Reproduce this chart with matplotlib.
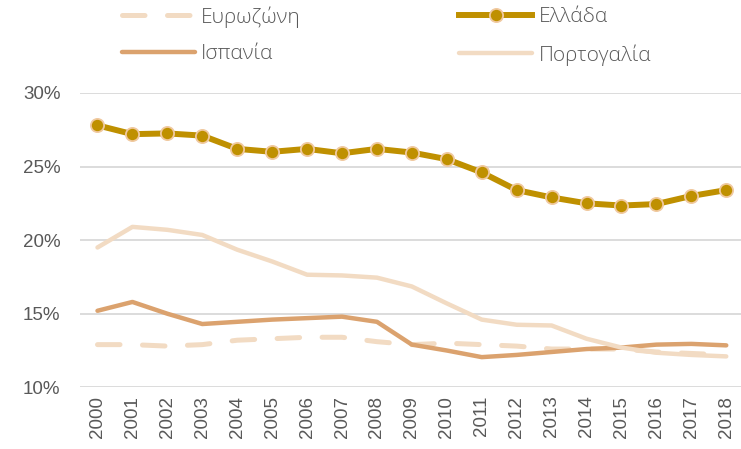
import matplotlib
matplotlib.use("Agg")
import matplotlib.pyplot as plt
from matplotlib.ticker import FuncFormatter

years = [str(y) for y in range(2000, 2019)]
eurozone = [12.9, 12.9, 12.8, 12.9, 13.2, 13.3, 13.4, 13.4, 13.1, 12.9, 13.0, 12.9, 12.8, 12.6, 12.6, 12.6, 12.4, 12.3, 12.2]
greece = [27.8, 27.2, 27.25, 27.1, 26.2, 26.0, 26.2, 25.9, 26.2, 25.95, 25.5, 24.6, 23.4, 22.9, 22.5, 22.35, 22.45, 23.0, 23.4]
spain = [15.2, 15.8, 15.0, 14.3, 14.45, 14.6, 14.7, 14.8, 14.45, 12.9, 12.5, 12.05, 12.2, 12.4, 12.6, 12.7, 12.9, 12.95, 12.85]
portugal = [19.5, 20.9, 20.7, 20.35, 19.35, 18.55, 17.65, 17.6, 17.45, 16.85, 15.7, 14.6, 14.25, 14.2, 13.3, 12.7, 12.35, 12.2, 12.1]

fig = plt.figure(figsize=(7.41, 4.49), dpi=100)
ax = fig.add_axes([0.108, 0.1374, 0.8957, 0.6556])

x = list(range(len(years)))
c_gr = "#BF9000"
c_es = "#DBA26E"
c_pt = "#F2DBC3"

l_ez, = ax.plot(x, eurozone, color=c_pt, lw=3.6, dashes=(4.5, 4.5), dash_capstyle="round", label="Ευρωζώνη", zorder=2)
l_es, = ax.plot(x, spain, color=c_es, lw=3.2, solid_capstyle="round", label="Ισπανία", zorder=3)
l_pt, = ax.plot(x, portugal, color=c_pt, lw=3.2, solid_capstyle="round", label="Πορτογαλία", zorder=4)
l_gr, = ax.plot(x, greece, color=c_gr, lw=4.3, marker="o", markersize=9.5,
                markerfacecolor=c_gr, markeredgecolor="#F0C9A0", markeredgewidth=1.3,
                label="Ελλάδα", zorder=5)

ax.set_xlim(-0.5, 18.5)
ax.set_ylim(10, 30)
ax.set_yticks([10, 15, 20, 25, 30])
ax.yaxis.set_major_formatter(FuncFormatter(lambda v, p: f"{int(v)}%"))
ax.set_xticks(x)
ax.set_xticklabels(years, rotation=90)
ax.grid(axis="y", color="#D9D9D9", lw=1.3)
ax.set_axisbelow(True)
for s in ax.spines.values():
    s.set_visible(False)
ax.tick_params(length=0, colors="#595959", labelsize=13.5)
ax.tick_params(axis="y", pad=14)
ax.tick_params(axis="x", pad=6)
for t in ax.get_xticklabels() + ax.get_yticklabels():
    t.set_fontfamily("Liberation Sans")

leg = fig.legend([l_ez, l_es, l_gr, l_pt], ["Ευρωζώνη", "Ισπανία", "Ελλάδα", "Πορτογαλία"],
                 ncol=2, loc="upper left", bbox_to_anchor=(122 / 741, 1 - 6 / 449), frameon=False,
                 prop={"family": "Open Sans", "size": 15, "weight": "light"},
                 borderpad=0, borderaxespad=0,
                 handlelength=3.5, handletextpad=0.3, columnspacing=7.6, labelspacing=0.8,
                 labelcolor="#595959")

fig.savefig("out.png", dpi=100)
